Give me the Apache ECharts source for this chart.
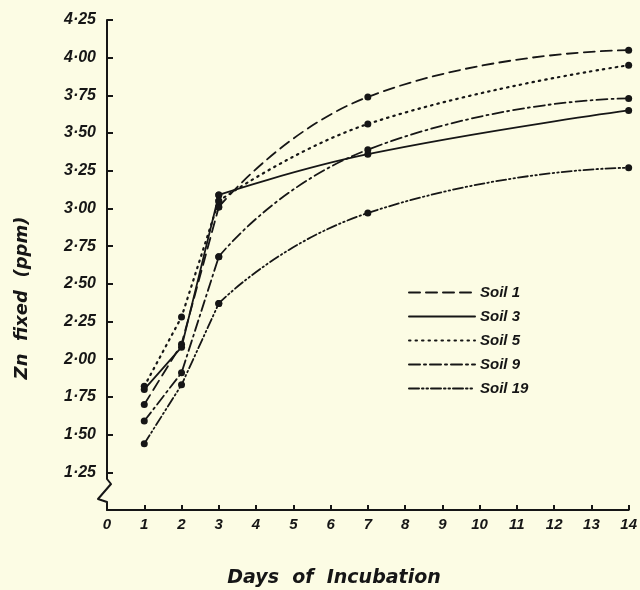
<!DOCTYPE html>
<html>
<head>
<meta charset="utf-8">
<script src="https://cdn.jsdelivr.net/npm/echarts@6/dist/echarts.min.js"></script>
<style>
html,body{margin:0;padding:0;background:#fcfce4;}
#chart{width:640px;height:590px;}
</style>
</head>
<body>
<div id="chart"></div>
<script>
// ---- data ----
const days = [1, 2, 3, 7, 14];
const soil1  = [1.70, 2.10, 3.01, 3.74, 4.05];
const soil3  = [1.80, 2.08, 3.09, 3.36, 3.65];
const soil5  = [1.82, 2.28, 3.05, 3.56, 3.95];
const soil9  = [1.59, 1.91, 2.68, 3.39, 3.73];
const soil19 = [1.44, 1.83, 2.37, 2.97, 3.27];
const seriesNames = ['Soil 1', 'Soil 3', 'Soil 5', 'Soil 9', 'Soil 19'];
const yTicks = [1.25, 1.50, 1.75, 2.00, 2.25, 2.50, 2.75, 3.00, 3.25, 3.50, 3.75, 4.00, 4.25];
const xTicks = [0,1,2,3,4,5,6,7,8,9,10,11,12,13,14];
const xTitle = 'Days  of  Incubation';
const yTitle = 'Zn  fixed  (ppm)';

// ---- styles ----
const ink = '#161616';
const bg = '#fcfce4';
const dashTypes = [[11, 6], 'solid', [1.5, 5], [11, 4, 2, 4], [10, 3, 1.5, 3, 1.5, 3]];
const widths = [1.8, 1.8, 2.2, 1.8, 1.8];
const smoothness = [0.5, 0.45, 0.45, 0.55, 0.55];
const allVals = [soil1, soil3, soil5, soil9, soil19];
const font = '"Liberation Sans", "DejaVu Sans", sans-serif';
const titleFont = '"DejaVu Sans", "Liberation Sans", sans-serif';

const series = [];
allVals.forEach((vals, k) => {
  const common = {
    name: seriesNames[k],
    type: 'line',
    symbol: 'circle',
    symbolSize: 7,
    itemStyle: { color: ink },
    lineStyle: { color: ink, width: widths[k], type: dashTypes[k], cap: 'round' },
    emphasis: { disabled: true },
    z: 3
  };
  series.push(Object.assign({}, common, {
    data: days.slice(0, 3).map((d, i) => [d, vals[i]]),
    smooth: false
  }));
  series.push(Object.assign({}, common, {
    data: days.slice(2).map((d, i) => [d, vals[i + 2]]),
    smooth: smoothness[k]
  }));
});

const chart = echarts.init(document.getElementById('chart'));
chart.setOption({
  backgroundColor: bg,
  animation: false,
  grid: { left: 107, right: 8, top: 20, bottom: 80 },
  xAxis: {
    type: 'value', min: 0, max: 14, interval: 1,
    axisLine: { lineStyle: { color: ink, width: 2 } },
    axisTick: { inside: true, length: 5, lineStyle: { color: ink, width: 2 } },
    axisLabel: {
      margin: 7, fontFamily: font, fontStyle: 'italic', fontWeight: 'bold', fontSize: 15, color: ink,
      formatter: v => xTicks.includes(v) ? String(v) : ''
    },
    splitLine: { show: false }
  },
  yAxis: {
    type: 'value', min: 1.0, max: 4.25, interval: 0.25,
    axisLine: { show: true, lineStyle: { color: ink, width: 2 } },
    axisTick: { inside: true, length: 6, lineStyle: { color: ink, width: 2 },
      customValues: yTicks },
    axisLabel: {
      margin: 11, fontFamily: font, fontStyle: 'italic', fontWeight: 'bold', fontSize: 16, color: ink,
      customValues: yTicks,
      formatter: v => v.toFixed(2).replace('.', '·')
    },
    splitLine: { show: false }
  },
  legend: {
    orient: 'vertical', left: 403, top: 280,
    itemWidth: 66, itemHeight: 14, itemGap: 9,
    data: seriesNames,
    itemStyle: { opacity: 0 },
    textStyle: { fontFamily: font, fontStyle: 'italic', fontWeight: 'bold', fontSize: 15, color: ink },
    selectedMode: false
  },
  graphic: [
    { type: 'rect', shape: { x: 95, y: 478, width: 18, height: 26 }, style: { fill: bg }, z: 10 },
    { type: 'polyline', shape: { points: [[107, 476], [107, 479], [111, 484], [98, 499], [107, 502], [107, 506]] },
      style: { stroke: ink, lineWidth: 2, fill: null, lineJoin: 'round' }, z: 11 },
    { type: 'text', x: 334, y: 578, z: 12,
      style: { text: xTitle, fill: ink, font: 'italic bold 19px ' + titleFont, align: 'center', verticalAlign: 'middle' } },
    { type: 'text', x: 22, y: 298, rotation: Math.PI / 2, z: 12,
      style: { text: yTitle, fill: ink, font: 'italic bold 18px ' + titleFont, align: 'center', verticalAlign: 'middle' } }
  ],
  series: series
});
</script>
</body>
</html>
